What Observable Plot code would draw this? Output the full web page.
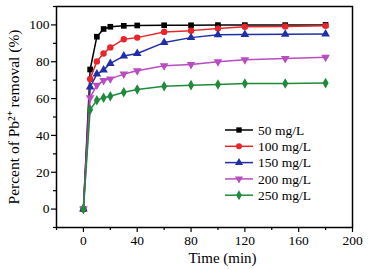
<!DOCTYPE html>
<html><head><meta charset="utf-8">
<script src="https://cdn.jsdelivr.net/npm/d3@7"></script>
<script src="https://cdn.jsdelivr.net/npm/@observablehq/plot@0.6"></script>
<style>body{margin:0;background:#fff}#c{position:relative;width:368px;height:269px}
#c svg text{font-family:'Liberation Serif','Times New Roman',serif}</style>
</head><body><div id="c"></div>
<script>
const times = [0, 5, 10, 15, 20, 30, 40, 60, 80, 100, 120, 150, 180];
const s50  = [0, 75.8, 93.6, 97.8, 99.0, 99.5, 99.7, 99.8, 99.8, 99.9, 99.9, 99.9, 100];
const s100 = [0, 70.7, 80.2, 84.5, 87.8, 92.2, 93.1, 96.2, 96.9, 98.0, 99.0, 99.2, 99.5];
const s150 = [0, 66.3, 73.3, 75.5, 79.1, 83.1, 84.5, 90.4, 93.1, 94.6, 94.8, 94.9, 95.1];
const s200 = [0, 60.5, 67.3, 69.8, 70.7, 73.3, 75.1, 77.8, 78.5, 80.0, 81.1, 81.8, 82.4];
const s250 = [0, 54.0, 59.1, 60.5, 61.3, 63.4, 64.9, 66.7, 67.3, 67.6, 68.2, 68.2, 68.4];
const seriesNames = ["50 mg/L", "100 mg/L", "150 mg/L", "200 mg/L", "250 mg/L"];
const seriesValues = [s50, s100, s150, s200, s250];
const colors = ["#000000", "#e8262a", "#1f2fa8", "#b84cc0", "#1f8a3a"];
const symbols = ["square", "circle", "triangle", "triangle", "diamond"];
const rotations = [0, 0, 0, 180, 0];
const xMajor = [0, 40, 80, 120, 160, 200];
const xMinor = [-20, 20, 60, 100, 140, 180];
const yMajor = [0, 20, 40, 60, 80, 100];
const yMinor = [-10, 10, 30, 50, 70, 90, 110];
const xTitle = "Time (min)";
const yTitle = "Percent of Pb\u00B2\u207A removal (%)";

const FONT = "'Liberation Serif', 'Times New Roman', serif";
const marks = [];
seriesValues.forEach((vals, i) => {
  const data = times.map((t, j) => ({t, v: vals[j]}));
  marks.push(Plot.line(data, {x: "t", y: "v", stroke: colors[i], strokeWidth: 1.5}));
  marks.push(Plot.dot(data, {x: "t", y: "v", fill: colors[i], stroke: "none", symbol: symbols[i], r: 3.2, rotate: rotations[i]}));
});

const chart = Plot.plot({
  width: 368, height: 269,
  marginLeft: 56, marginRight: 16, marginTop: 6, marginBottom: 42,
  style: {fontFamily: FONT, fontSize: "13px", color: "#000", background: "#fff"},
  x: {domain: [-20, 200]},
  y: {domain: [-10, 110]},
  marks: [
    Plot.axisX({ticks: xMinor, tickSize: 3, text: null, label: null, strokeWidth: 1.2}),
    Plot.axisX({ticks: xMajor, tickSize: 5, tickPadding: 3, label: null, strokeWidth: 1.2, fontSize: 13.5, fontFamily: FONT}),
    Plot.axisY({ticks: yMinor, tickSize: 3, text: null, label: null, strokeWidth: 1.2}),
    Plot.axisY({ticks: yMajor, tickSize: 5, tickPadding: 2, strokeWidth: 1.2, fontSize: 13.5, fontFamily: FONT, label: null}),
    Plot.text([xTitle], {frameAnchor: "bottom", dx: 18, dy: 35, fontSize: 15, fill: "#000", fontFamily: FONT}),
    Plot.text([yTitle], {frameAnchor: "left", textAnchor: "middle", dx: -42, dy: 0, rotate: -90, fontSize: 15.5, fill: "#000", fontFamily: FONT}),
    ...marks,
    Plot.frame({stroke: "#000", strokeWidth: 1.5})
  ]
});

// legend overlay drawn into the plot's svg
const svg = d3.select(chart);
const lg = svg.append("g").attr("font-family", FONT).attr("font-size", 13.5).attr("text-anchor", "start");
seriesNames.forEach((name, i) => {
  const y = 130 + i * 16.3;
  lg.append("line").attr("x1", 225).attr("x2", 253).attr("y1", y).attr("y2", y)
    .attr("stroke", colors[i]).attr("stroke-width", 1.5);
  lg.append("path").attr("d", d3.symbol(
      {square: d3.symbolSquare, circle: d3.symbolCircle, triangle: d3.symbolTriangle, diamond: d3.symbolDiamond}[symbols[i]], Math.PI * 9)())
    .attr("transform", `translate(239,${y}) rotate(${rotations[i]})`).attr("fill", colors[i]);
  lg.append("text").attr("x", 258).attr("y", y).attr("dy", "0.35em").attr("text-anchor", "start").attr("fill", "#000").text(name);
});
document.getElementById("c").appendChild(chart);
</script></body></html>
